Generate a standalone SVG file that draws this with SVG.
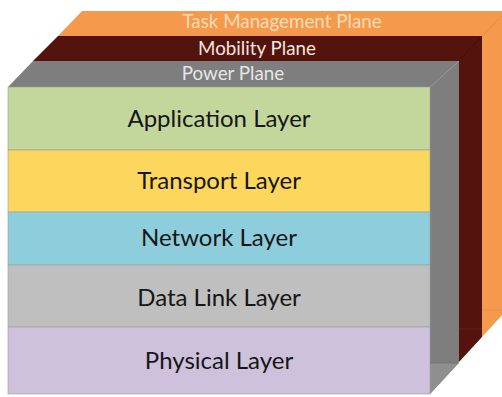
<svg xmlns="http://www.w3.org/2000/svg" width="502" height="397" viewBox="0 0 502 397">
<style>
.lt{font-family:Lato,"Open Sans","Liberation Sans",sans-serif;font-size:24px;fill:#161616;text-anchor:middle}
.pt{font-family:Lato,"Open Sans","Liberation Sans",sans-serif;font-size:18.8px;text-anchor:middle}
.layer{stroke:#98a098;stroke-width:0.6}
</style>
<rect width="502" height="397" fill="#ffffff"/>
<g id="task-plane">
<polygon points="82,11 505,11 505,312 482,337 482,36 58,36" fill="#f59a4c"/>
<line x1="482" y1="36" x2="505" y2="13" stroke="#e08a40" stroke-width="0.8"/>
<line x1="482" y1="310" x2="505" y2="310" stroke="#e08a40" stroke-width="0.6"/>
<text class="pt" x="282" y="28" fill="#fbdcb8">Task Management Plane</text>
</g>
<g id="mobility-plane">
<polygon points="58,36 482,36 482,337 459,362 459,61 33,61" fill="#55130e"/>
<line x1="459" y1="61" x2="482" y2="36" stroke="#3e0c08" stroke-width="0.8"/>
<line x1="459" y1="329" x2="482" y2="329" stroke="#6c2a24" stroke-width="0.6"/>
<text class="pt" x="257" y="55" fill="#f4e6de">Mobility Plane</text>
</g>
<g id="power-plane">
<polygon points="33,61 459,61 459,362 430,394 430,87 8,87" fill="#7e7e7e"/>
<polygon points="430,363 459,363 430,394" fill="#8f8f8f"/>
<line x1="430" y1="363" x2="459" y2="363" stroke="#6a6a6a" stroke-width="0.6"/>
<line x1="430" y1="87" x2="459" y2="61" stroke="#9aa0a8" stroke-width="0.8"/>
<text class="pt" x="233" y="80" fill="#e6e6e6">Power Plane</text>
</g>
<g id="application-layer">
<rect class="layer" x="8" y="87" width="422" height="63" fill="#c3d69b"/>
<text class="lt" x="219" y="127">Application Layer</text>
</g>
<g id="transport-layer">
<rect class="layer" x="8" y="150" width="422" height="62" fill="#fdd65e"/>
<text class="lt" x="219" y="189">Transport Layer</text>
</g>
<g id="network-layer">
<rect class="layer" x="8" y="212" width="422" height="53" fill="#8ecddb"/>
<text class="lt" x="219" y="246">Network Layer</text>
</g>
<g id="data-link-layer">
<rect class="layer" x="8" y="265" width="422" height="62" fill="#bfbfbf"/>
<text class="lt" x="219" y="306">Data Link Layer</text>
</g>
<g id="physical-layer">
<rect class="layer" x="8" y="327" width="422" height="67" fill="#cdc1dc"/>
<text class="lt" x="219" y="369">Physical Layer</text>
</g>
<g id="connectors"></g>
</svg>
